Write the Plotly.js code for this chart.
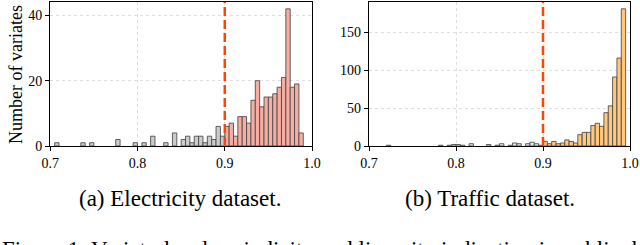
<!DOCTYPE html>
<html>
<head>
<meta charset="utf-8">
<script src="https://cdn.plot.ly/plotly-3.0.1.min.js"></script>
<style>
  html, body { margin: 0; padding: 0; background: #fff; }
  #chart { width: 640px; height: 245px; }
</style>
</head>
<body>
<div id="chart"></div>
<script>
// ---- Data ----
const binWidth = 0.005;
const threshold = 0.9;

// (a) Electricity dataset
const elecLowX  = [0.7075,0.7375,0.7475,0.7775,0.7975,0.8075,0.8175,0.8325,0.8425,0.8525,0.8575,0.8625,0.8675,0.8725,0.8775,0.8825,0.8875,0.8925,0.8975];
const elecLowY  = [1,1,1,2,1,1,3,1,4,2,3,1,3,3,1,3,2,6,3];
const elecHighX = [0.9025,0.9075,0.9125,0.9175,0.9225,0.9275,0.9325,0.9375,0.9425,0.9475,0.9525,0.9575,0.9625,0.9675,0.9725,0.9775,0.9825,0.9875];
const elecHighY = [6,7,3,9,9,7,14,20,12,15,15,16,18,21,42,18,19,4];

// (b) Traffic dataset
const trafLowX  = [0.7225,0.7825,0.7925,0.7975,0.8025,0.8075,0.8175,0.8375,0.8475,0.8525,0.8625,0.8675,0.8725,0.8825,0.8875,0.8925,0.8975];
const trafLowY  = [1,1,1,2,2,1,3,2,1,3,1,4,3,3,5,3,1];
const trafHighX = [0.9025,0.9075,0.9125,0.9175,0.9225,0.9275,0.9325,0.9375,0.9425,0.9475,0.9525,0.9575,0.9625,0.9675,0.9725,0.9775,0.9825,0.9875,0.9925];
const trafHighY = [6,3,6,3,4,8,6,4,15,18,18,27,30,26,44,53,91,116,181];

const xTickVals = [0.7, 0.8, 0.9, 1.0];
const xTickText = ['0.7', '0.8', '0.9', '1.0'];
const elecYTicks = [0, 20, 40];
const trafYTicks = [0, 50, 100, 150];

const yTitle = 'Number of variates';
const captionA = '(a) Electricity dataset.';
const captionB = '(b) Traffic dataset.';
const figCaption = 'Figure 1: Variate-level periodicity and linearity indication in public datasets.';

// ---- Styles ----
const SERIF = 'Liberation Serif, Times New Roman, serif';
const edge = { color: 'rgba(70,70,70,0.85)', width: 1 };

function bars(x, y, color, xa, ya) {
  return {
    type: 'bar', x: x, y: y, width: x.map(() => binWidth),
    xaxis: xa, yaxis: ya,
    marker: { color: color, line: edge },
    hoverinfo: 'x+y', showlegend: false
  };
}

const data = [
  bars(elecLowX, elecLowY, 'rgb(204,204,204)', 'x', 'y'),
  bars(elecHighX, elecHighY, 'rgb(247,174,162)', 'x', 'y'),
  bars(trafLowX, trafLowY, 'rgb(232,232,232)', 'x2', 'y2'),
  bars(trafHighX, trafHighY, 'rgb(255,200,125)', 'x2', 'y2')
];

const W = 640, H = 245;
const px = v => v / W;
const py = v => (H - v) / H;

function xAxis(domain, anchor) {
  return {
    domain: domain, anchor: anchor, range: [0.7, 1.0],
    tickvals: xTickVals, ticktext: xTickText,
    ticks: 'outside', ticklen: 4, tickwidth: 1, tickcolor: '#000',
    showline: true, linecolor: '#000', linewidth: 1.2, mirror: true,
    showgrid: true, gridcolor: 'rgb(222,222,222)', griddash: '3px,3px', gridwidth: 1,
    zeroline: false,
    tickfont: { family: SERIF, size: 14, color: '#000' }
  };
}
function yAxis(range, ticks, anchor) {
  return {
    domain: [py(146), py(2)], anchor: anchor, range: range,
    tickvals: ticks,
    ticks: 'outside', ticklen: 4, tickwidth: 1, tickcolor: '#000',
    showline: true, linecolor: '#000', linewidth: 1.2, mirror: true,
    showgrid: true, gridcolor: 'rgb(222,222,222)', griddash: '3px,3px', gridwidth: 1,
    zeroline: false,
    tickfont: { family: SERIF, size: 14, color: '#000' }
  };
}

const layout = {
  width: W, height: H,
  margin: { l: 0, r: 0, t: 0, b: 0 },
  paper_bgcolor: '#fff', plot_bgcolor: '#fff',
  bargap: 0, barmode: 'overlay',
  font: { family: SERIF, color: '#000' },
  xaxis: xAxis([px(50.3), px(312)], 'y'),
  yaxis: yAxis([0, 44.1], elecYTicks, 'x'),
  xaxis2: xAxis([px(369), px(630)], 'y2'),
  yaxis2: yAxis([0, 190], trafYTicks, 'x2'),
  shapes: [
    { type: 'line', xref: 'x', yref: 'y domain', x0: threshold, x1: threshold, y0: 0, y1: 1,
      line: { color: '#FF4500', width: 2.5, dash: '9px,4px' }, layer: 'above' },
    { type: 'line', xref: 'x2', yref: 'y2 domain', x0: threshold, x1: threshold, y0: 0, y1: 1,
      line: { color: '#FF4500', width: 2.5, dash: '9px,4px' }, layer: 'above' }
  ],
  annotations: [
    { text: yTitle, xref: 'paper', yref: 'paper', x: px(16), y: py(75),
      textangle: -90, showarrow: false, xanchor: 'center', yanchor: 'middle',
      font: { family: SERIF, size: 18, color: '#000' } },
    { text: captionA, xref: 'paper', yref: 'paper', x: px(180), y: py(198),
      showarrow: false, xanchor: 'center', yanchor: 'middle',
      font: { family: SERIF, size: 23, color: '#000' } },
    { text: captionB, xref: 'paper', yref: 'paper', x: px(490), y: py(198),
      showarrow: false, xanchor: 'center', yanchor: 'middle',
      font: { family: SERIF, size: 23, color: '#000' } },
    { text: figCaption, xref: 'paper', yref: 'paper', x: 0, y: py(249),
      showarrow: false, xanchor: 'left', yanchor: 'middle',
      font: { family: SERIF, size: 23, color: '#000' } }
  ]
};

Plotly.newPlot('chart', data, layout, { staticPlot: true, displayModeBar: false });
</script>
</body>
</html>
